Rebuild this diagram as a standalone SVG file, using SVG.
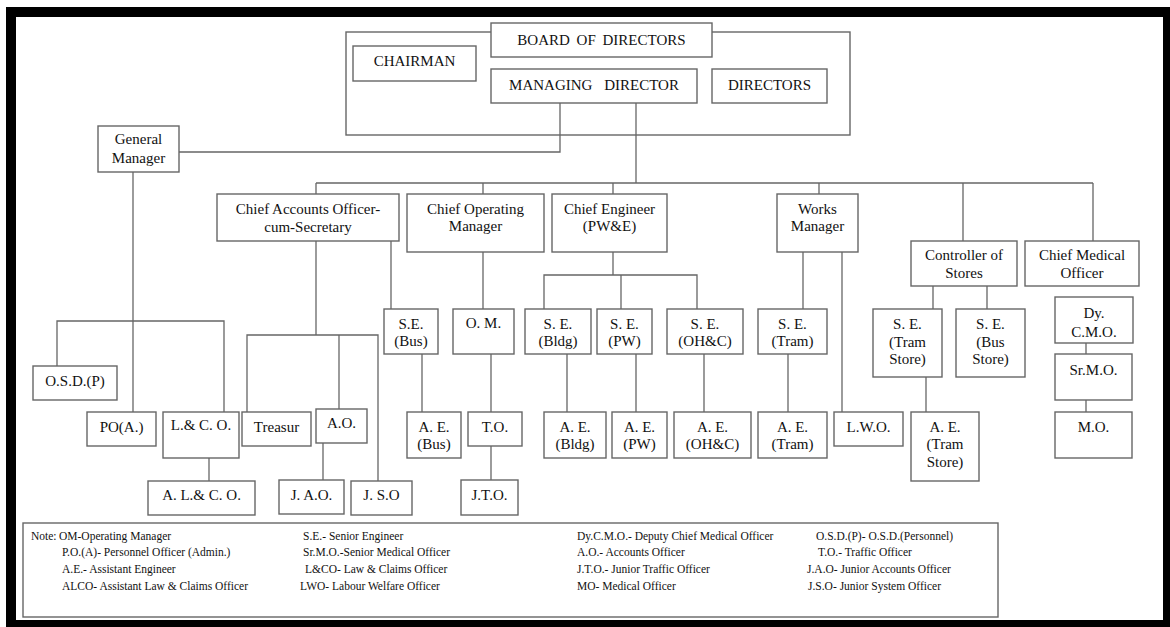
<svg xmlns="http://www.w3.org/2000/svg" width="1170" height="627" viewBox="0 0 1170 627">
<style>
.box{fill:#fff;stroke:#666;stroke-width:1.4}
.frame{fill:none;stroke:#666;stroke-width:1.4}
.t{font-family:"Liberation Serif","Times New Roman",serif;font-size:15px;fill:#111;text-anchor:middle}
.cap{font-size:15px}
.n{font-family:"Liberation Serif","Times New Roman",serif;font-size:11.5px;fill:#111}
.c path{fill:none;stroke:#666;stroke-width:1.3}
</style>
<rect x="0" y="0" width="1170" height="627" fill="#fff"/>
<rect x="11" y="12" width="1157" height="613" fill="none" stroke="#000" stroke-width="10"/>

<g id="board-frame"><rect class="frame" x="346" y="32" width="504" height="103"/></g>

<g class="c" id="connectors">
<path d="M560,103 V152 H179"/>
<path d="M636,103 V183"/>
<path d="M316,183 H1093"/>
<path d="M316,183 V194 M483,183 V194 M613,183 V194 M819,183 V194 M963,183 V241 M1093,183 V241"/>
<path d="M133,172 V412"/>
<path d="M57,366 V321 H224 V412"/>
<path d="M316,241 V335"/>
<path d="M247,412 V335 H378 V481"/>
<path d="M339,335 V409"/>
<path d="M391,241 V309"/>
<path d="M209,458 V481"/>
<path d="M323,443 V480"/>
<path d="M422,354 V412"/>
<path d="M483,252 V309"/>
<path d="M491,354 V412"/>
<path d="M491,446 V480"/>
<path d="M613,252 V275"/>
<path d="M544,309 V275 H697 V309"/>
<path d="M621,275 V309"/>
<path d="M567,354 V412 M636,354 V412 M704,354 V412"/>
<path d="M803,252 V309"/>
<path d="M842,252 V412"/>
<path d="M788,354 V412"/>
<path d="M933,286 V309 M987,286 V309"/>
<path d="M926,377 V412"/>
<path d="M1086,343 V354 M1086,400 V412"/>
</g>

<g id="board"><rect class="box" x="491" y="23" width="221" height="34"/><text class="t cap" x="601.5" y="45" word-spacing="3">BOARD OF DIRECTORS</text></g>
<g id="chairman"><rect class="box" x="353" y="46" width="123" height="35"/><text class="t cap" x="414.5" y="66">CHAIRMAN</text></g>
<g id="managing-director"><rect class="box" x="491" y="69" width="206" height="34"/><text class="t cap" x="594" y="90" word-spacing="8">MANAGING DIRECTOR</text></g>
<g id="directors"><rect class="box" x="712" y="69" width="115" height="34"/><text class="t cap" x="769.5" y="90">DIRECTORS</text></g>

<g id="general-manager"><rect class="box" x="98" y="126" width="81" height="46"/><text class="t" x="138.5" y="144">General</text><text class="t" x="138.5" y="163">Manager</text></g>
<g id="chief-accounts"><rect class="box" x="217" y="194" width="182" height="47"/><text class="t" x="308" y="214">Chief Accounts Officer-</text><text class="t" x="308" y="232">cum-Secretary</text></g>
<g id="chief-operating"><rect class="box" x="407" y="194" width="137" height="58"/><text class="t" x="475.5" y="214">Chief Operating</text><text class="t" x="475.5" y="231">Manager</text></g>
<g id="chief-engineer"><rect class="box" x="552" y="194" width="115" height="58"/><text class="t" x="609.5" y="214">Chief Engineer</text><text class="t" x="609.5" y="231">(PW&amp;E)</text></g>
<g id="works-manager"><rect class="box" x="777" y="194" width="81" height="58"/><text class="t" x="817.5" y="214">Works</text><text class="t" x="817.5" y="231">Manager</text></g>
<g id="controller-stores"><rect class="box" x="911" y="241" width="106" height="45"/><text class="t" x="964" y="260">Controller of</text><text class="t" x="964" y="278">Stores</text></g>
<g id="chief-medical"><rect class="box" x="1025" y="241" width="114" height="45"/><text class="t" x="1082" y="260">Chief Medical</text><text class="t" x="1082" y="278">Officer</text></g>

<g id="osd-p"><rect class="box" x="33" y="366" width="84" height="34"/><text class="t" x="75" y="386">O.S.D.(P)</text></g>
<g id="po-a"><rect class="box" x="87" y="412" width="69" height="34"/><text class="t" x="121.5" y="432">PO(A.)</text></g>
<g id="lco"><rect class="box" x="163" y="412" width="76" height="46"/><text class="t" x="201" y="430">L.&amp; C. O.</text></g>
<g id="alco"><rect class="box" x="148" y="481" width="107" height="34"/><text class="t" x="201.5" y="500">A. L.&amp; C. O.</text></g>
<g id="treasurer"><rect class="box" x="242" y="412" width="69" height="34"/><text class="t" x="276.5" y="432">Treasur</text></g>
<g id="ao"><rect class="box" x="316" y="409" width="51" height="34"/><text class="t" x="341.5" y="428">A.O.</text></g>
<g id="jao"><rect class="box" x="279" y="480" width="65" height="34"/><text class="t" x="311.5" y="500">J. A.O.</text></g>
<g id="jso"><rect class="box" x="351" y="481" width="61" height="34"/><text class="t" x="381.5" y="500">J. S.O</text></g>

<g id="se-bus"><rect class="box" x="384" y="309" width="54" height="45"/><text class="t" x="411" y="329">S.E.</text><text class="t" x="411" y="346">(Bus)</text></g>
<g id="ae-bus"><rect class="box" x="407" y="412" width="54" height="46"/><text class="t" x="434" y="432">A. E.</text><text class="t" x="434" y="449">(Bus)</text></g>
<g id="om"><rect class="box" x="453" y="309" width="61" height="45"/><text class="t" x="483.5" y="328">O. M.</text></g>
<g id="to"><rect class="box" x="468" y="412" width="54" height="34"/><text class="t" x="495" y="432">T.O.</text></g>
<g id="jto"><rect class="box" x="461" y="480" width="57" height="35"/><text class="t" x="489.5" y="500">J.T.O.</text></g>

<g id="se-bldg"><rect class="box" x="525" y="309" width="66" height="45"/><text class="t" x="558" y="329">S. E.</text><text class="t" x="558" y="346">(Bldg)</text></g>
<g id="se-pw"><rect class="box" x="597" y="309" width="55" height="45"/><text class="t" x="624.5" y="329">S. E.</text><text class="t" x="624.5" y="346">(PW)</text></g>
<g id="se-ohc"><rect class="box" x="667" y="309" width="76" height="45"/><text class="t" x="705" y="329">S. E.</text><text class="t" x="705" y="346">(OH&amp;C)</text></g>
<g id="ae-bldg"><rect class="box" x="544" y="412" width="62" height="46"/><text class="t" x="575" y="432">A. E.</text><text class="t" x="575" y="449">(Bldg)</text></g>
<g id="ae-pw"><rect class="box" x="612" y="412" width="55" height="46"/><text class="t" x="639.5" y="432">A. E.</text><text class="t" x="639.5" y="449">(PW)</text></g>
<g id="ae-ohc"><rect class="box" x="674" y="412" width="77" height="46"/><text class="t" x="712.5" y="432">A. E.</text><text class="t" x="712.5" y="449">(OH&amp;C)</text></g>

<g id="se-tram"><rect class="box" x="758" y="309" width="69" height="45"/><text class="t" x="792.5" y="329">S. E.</text><text class="t" x="792.5" y="346">(Tram)</text></g>
<g id="ae-tram"><rect class="box" x="758" y="412" width="69" height="46"/><text class="t" x="792.5" y="432">A. E.</text><text class="t" x="792.5" y="449">(Tram)</text></g>
<g id="lwo"><rect class="box" x="834" y="412" width="69" height="34"/><text class="t" x="868.5" y="432">L.W.O.</text></g>

<g id="se-tram-store"><rect class="box" x="873" y="309" width="69" height="68"/><text class="t" x="907.5" y="329">S. E.</text><text class="t" x="907.5" y="347">(Tram</text><text class="t" x="907.5" y="364">Store)</text></g>
<g id="se-bus-store"><rect class="box" x="956" y="309" width="69" height="68"/><text class="t" x="990.5" y="329">S. E.</text><text class="t" x="990.5" y="347">(Bus</text><text class="t" x="990.5" y="364">Store)</text></g>
<g id="ae-tram-store"><rect class="box" x="911" y="412" width="68" height="69"/><text class="t" x="945" y="432">A. E.</text><text class="t" x="945" y="449">(Tram</text><text class="t" x="945" y="467">Store)</text></g>

<g id="dy-cmo"><rect class="box" x="1055" y="297" width="78" height="46"/><text class="t" x="1094" y="318">Dy.</text><text class="t" x="1094" y="337">C.M.O.</text></g>
<g id="sr-mo"><rect class="box" x="1055" y="354" width="77" height="46"/><text class="t" x="1093.5" y="375">Sr.M.O.</text></g>
<g id="mo"><rect class="box" x="1055" y="412" width="77" height="46"/><text class="t" x="1093.5" y="432">M.O.</text></g>

<g id="notes">
<rect class="box" x="23" y="523" width="975" height="94"/>
<text class="n" x="31" y="540">Note:</text>
<text class="n" x="59" y="540">OM-Operating Manager</text>
<text class="n" x="62" y="556">P.O.(A)- Personnel Officer (Admin.)</text>
<text class="n" x="62" y="573">A.E.- Assistant Engineer</text>
<text class="n" x="62" y="590">ALCO- Assistant Law &amp; Claims Officer</text>
<text class="n" x="303" y="540">S.E.- Senior Engineer</text>
<text class="n" x="303" y="556">Sr.M.O.-Senior Medical Officer</text>
<text class="n" x="305" y="573">L&amp;CO- Law &amp; Claims Officer</text>
<text class="n" x="300" y="590">LWO- Labour Welfare Officer</text>
<text class="n" x="577" y="540">Dy.C.M.O.- Deputy Chief Medical Officer</text>
<text class="n" x="577" y="556">A.O.- Accounts Officer</text>
<text class="n" x="577" y="573">J.T.O.- Junior Traffic Officer</text>
<text class="n" x="577" y="590">MO- Medical Officer</text>
<text class="n" x="816" y="540">O.S.D.(P)- O.S.D.(Personnel)</text>
<text class="n" x="818" y="556">T.O.- Traffic Officer</text>
<text class="n" x="807" y="573">J.A.O- Junior Accounts Officer</text>
<text class="n" x="808" y="590">J.S.O- Junior System Officer</text>
</g>
</svg>
